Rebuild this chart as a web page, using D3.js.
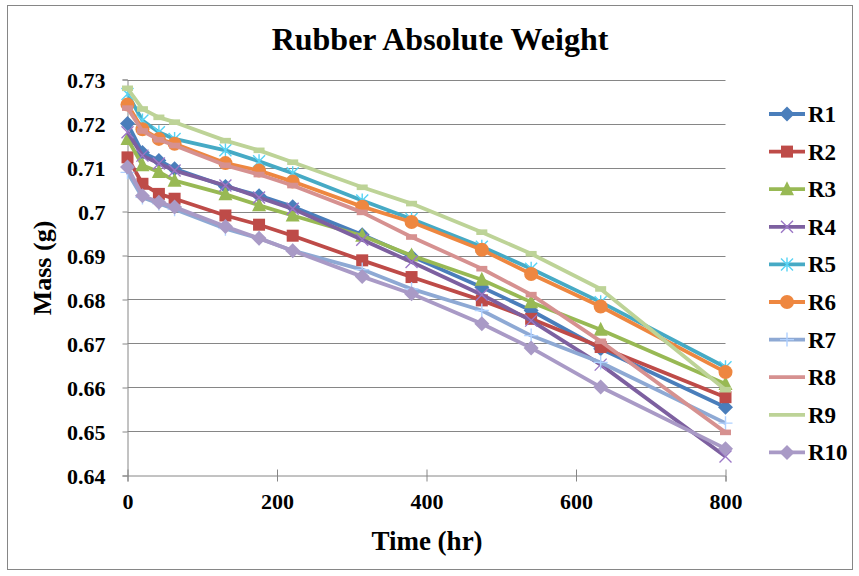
<!DOCTYPE html>
<html>
<head>
<meta charset="utf-8">
<script src="https://cdn.jsdelivr.net/npm/d3@7/dist/d3.min.js"></script>
<style>
  html, body { margin: 0; padding: 0; background: #fff; }
  svg text { font-family: "Liberation Serif", "Times New Roman", serif; font-weight: bold; fill: #000; }
</style>
</head>
<body>
<svg id="chart" width="859" height="576"></svg>
<script>
// Sampling times (hours)
const times = [0, 20, 42, 63, 131, 176, 221, 314, 380, 474, 540, 633, 800];

// Mass of each rubber sample (g) at each sampling time
const R1  = [0.7200, 0.7134, 0.7116, 0.7097, 0.7057, 0.7036, 0.7011, 0.6947, 0.6898, 0.6828, 0.6775, 0.6688, 0.6555];
const R2  = [0.7123, 0.7063, 0.7040, 0.7029, 0.6991, 0.6970, 0.6945, 0.6889, 0.6851, 0.6798, 0.6756, 0.6692, 0.6578];
const R3  = [0.7165, 0.7105, 0.7090, 0.7070, 0.7039, 0.7014, 0.6991, 0.6945, 0.6900, 0.6845, 0.6794, 0.6731, 0.6608];
const R4  = [0.7180, 0.7127, 0.7109, 0.7093, 0.7059, 0.7032, 0.7006, 0.6936, 0.6885, 0.6811, 0.6752, 0.6652, 0.6443];
const R5  = [0.7267, 0.7207, 0.7180, 0.7165, 0.7139, 0.7114, 0.7087, 0.7025, 0.6983, 0.6920, 0.6870, 0.6794, 0.6646];
const R6  = [0.7243, 0.7187, 0.7165, 0.7154, 0.7110, 0.7093, 0.7068, 0.7011, 0.6976, 0.6913, 0.6858, 0.6784, 0.6635];
const R7  = [0.7089, 0.7032, 0.7018, 0.7005, 0.6961, 0.6939, 0.6911, 0.6868, 0.6824, 0.6775, 0.6718, 0.6657, 0.6519];
const R8  = [0.7235, 0.7183, 0.7163, 0.7150, 0.7105, 0.7084, 0.7059, 0.6998, 0.6942, 0.6870, 0.6811, 0.6705, 0.6498];
const R9  = [0.7280, 0.7233, 0.7214, 0.7203, 0.7161, 0.7139, 0.7112, 0.7055, 0.7018, 0.6953, 0.6904, 0.6824, 0.6595];
const R10 = [0.7101, 0.7036, 0.7021, 0.7010, 0.6966, 0.6939, 0.6911, 0.6852, 0.6813, 0.6745, 0.6690, 0.6601, 0.6461];

const seriesNames = ["R1", "R2", "R3", "R4", "R5", "R6", "R7", "R8", "R9", "R10"];
const seriesValues = [R1, R2, R3, R4, R5, R6, R7, R8, R9, R10];

// Axis ticks
const xTicks = [0, 200, 400, 600, 800];
const yTicks = [0.64, 0.65, 0.66, 0.67, 0.68, 0.69, 0.70, 0.71, 0.72, 0.73];
const yTickLabels = ["0.64", "0.65", "0.66", "0.67", "0.68", "0.69", "0.7", "0.71", "0.72", "0.73"];

// Styling per series: colour and marker type
const colors = ["#4A7EBB", "#BE4B48", "#98B954", "#7D60A0", "#46AAC5",
                "#EE8740", "#8EA9D4", "#D69190", "#BDD397", "#A99AC6"];
const markers = ["diamond", "square", "triangle", "x", "star", "circle", "plus", "dash", "dash", "diamond"];

const svg = d3.select("#chart");

// Outer chart frame
svg.append("rect")
  .attr("x", 7.5).attr("y", 5.5).attr("width", 845).attr("height", 564)
  .attr("fill", "#fff").attr("stroke", "#868686").attr("stroke-width", 1);

const x = d3.scaleLinear().domain([0, 800]).range([127.5, 725.5]);
const y = d3.scaleLinear().domain([0.64, 0.73]).range([475.5, 79.5]);

// Horizontal gridlines
svg.append("g").selectAll("line").data(yTicks.slice(1)).join("line")
  .attr("x1", x(0)).attr("x2", x(800))
  .attr("y1", d => Math.round(y(d)) + 0.5).attr("y2", d => Math.round(y(d)) + 0.5)
  .attr("stroke", "#868686").attr("stroke-width", 1);

// Y axis
const yAxis = d3.axisLeft(y).tickValues(yTicks)
  .tickFormat((d, i) => yTickLabels[i]).tickSize(5).tickPadding(17);
const gy = svg.append("g").attr("transform", `translate(${x(0)},0)`).call(yAxis);
gy.select(".domain").attr("stroke", "#868686");
gy.selectAll(".tick line").attr("stroke", "#868686");
gy.selectAll(".tick text").attr("font-size", 22).attr("font-family", "Liberation Serif")
  .attr("font-weight", "bold").attr("dy", "0.35em");

// X axis (cross tick marks)
const xAxis = d3.axisBottom(x).tickValues(xTicks).tickSize(6).tickPadding(12);
const gx = svg.append("g").attr("transform", `translate(0,${y(0.64)})`).call(xAxis);
gx.select(".domain").attr("stroke", "#868686");
gx.selectAll(".tick line").attr("stroke", "#868686").attr("y1", -6);
gx.selectAll(".tick text").attr("font-size", 22).attr("font-family", "Liberation Serif")
  .attr("font-weight", "bold");

// Titles
svg.append("text").attr("x", 440).attr("y", 50).attr("text-anchor", "middle")
  .attr("font-size", 32).text("Rubber Absolute Weight");
svg.append("text").attr("x", 427).attr("y", 550).attr("text-anchor", "middle")
  .attr("font-size", 27).text("Time (hr)");
svg.append("text").attr("transform", "translate(51,268) rotate(-90)")
  .attr("text-anchor", "middle").attr("font-size", 26).text("Mass (g)");

// Marker drawing
function drawMarker(g, type, color) {
  const s = 7.5;
  switch (type) {
    case "diamond":
      g.append("path").attr("d", `M0,${-s}L${s},0L0,${s}L${-s},0Z`).attr("fill", color);
      break;
    case "square":
      g.append("rect").attr("x", -6).attr("y", -6).attr("width", 12).attr("height", 12).attr("fill", color);
      break;
    case "triangle":
      g.append("path").attr("d", `M0,-8L7,6L-7,6Z`).attr("fill", color);
      break;
    case "circle":
      g.append("circle").attr("r", 7).attr("fill", color);
      break;
    case "x":
      g.append("path").attr("d", "M-6,-6L6,6M-6,6L6,-6").attr("stroke", color).attr("stroke-width", 1.4).attr("fill", "none");
      break;
    case "star":
      g.append("path").attr("d", "M-6,-6L6,6M-6,6L6,-6M0,-7L0,7").attr("stroke", color).attr("stroke-width", 1.4).attr("fill", "none");
      break;
    case "plus":
      g.append("path").attr("d", "M-7,0L7,0M0,-7L0,7").attr("stroke", color).attr("stroke-width", 1.4).attr("fill", "none");
      break;
    case "dash":
      g.append("rect").attr("x", -5.5).attr("y", -2.8).attr("width", 11).attr("height", 5.6).attr("fill", color);
      break;
  }
}

const line = d3.line().x(d => x(d[0])).y(d => y(d[1]));
const markerColors = colors.map((c, i) =>
  (markers[i] === "x" || markers[i] === "star" || markers[i] === "plus") ? d3.color(c).brighter(0.6).formatHex() : c);

// Series lines with markers
seriesValues.forEach((vals, i) => {
  const pts = times.map((t, j) => [t, vals[j]]);
  const g = svg.append("g");
  g.append("path").datum(pts).attr("d", line)
    .attr("fill", "none").attr("stroke", colors[i]).attr("stroke-width", 3.8)
    .attr("stroke-linejoin", "round");
  pts.forEach(p => {
    const m = g.append("g").attr("transform", `translate(${x(p[0])},${y(p[1])})`);
    drawMarker(m, markers[i], markerColors[i]);
  });
});

// Legend
const legend = svg.append("g");
seriesNames.forEach((name, i) => {
  const cy = 114 + i * 37.6;
  const g = legend.append("g").attr("transform", `translate(0,${cy})`);
  g.append("line").attr("x1", 769).attr("x2", 805).attr("y1", 0).attr("y2", 0)
    .attr("stroke", colors[i]).attr("stroke-width", 3.8);
  const m = g.append("g").attr("transform", "translate(787,0)");
  if (markers[i] !== "dash") drawMarker(m, markers[i], markerColors[i]);
  g.append("text").attr("x", 808).attr("y", 8).attr("font-size", 23).text(name);
});
</script>
</body>
</html>
